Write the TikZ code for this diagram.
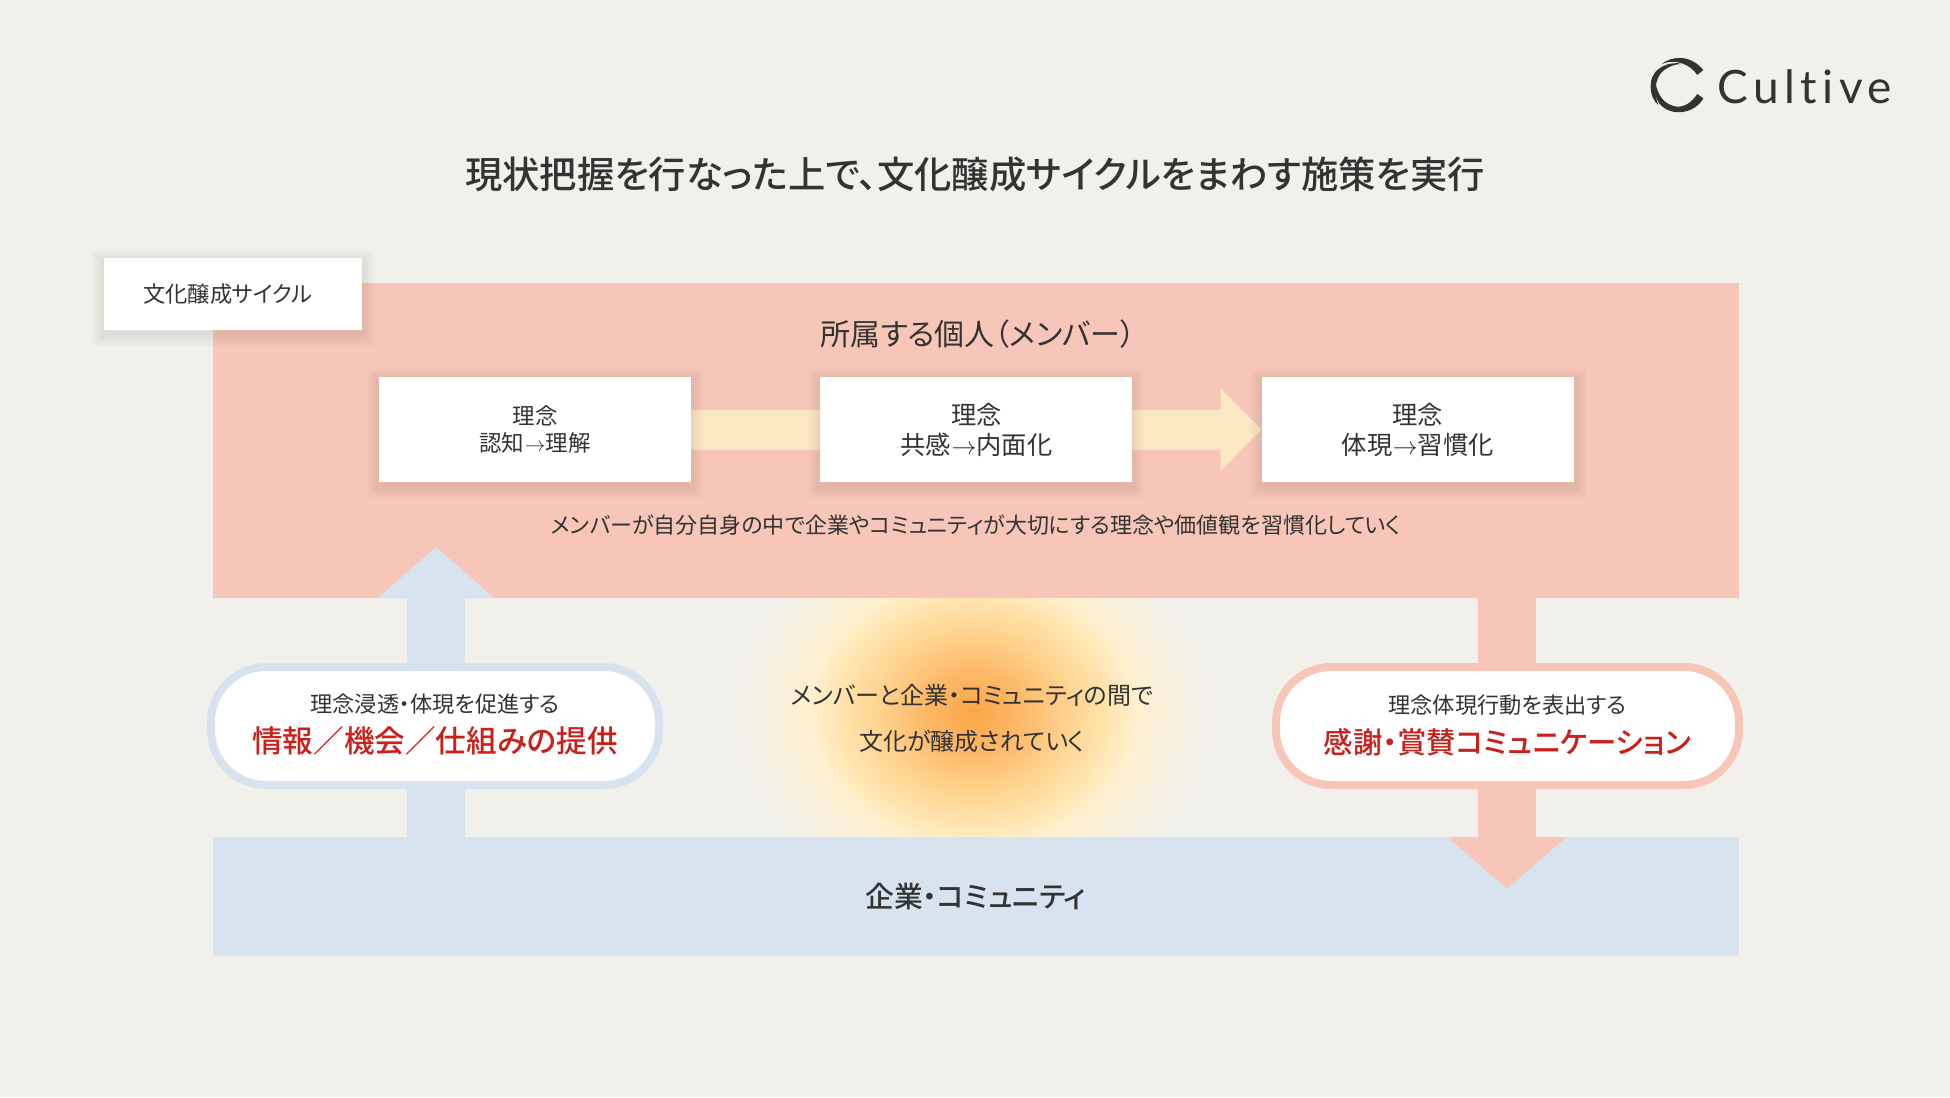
\documentclass[tikz,border=0pt]{standalone}
\usepackage{fontspec}
\setmainfont{Noto Sans CJK JP}[RawFeature=+palt]
\newfontfamily\midfont{Noto Sans CJK JP Medium}[RawFeature=+palt]
\newfontfamily\logofont{Lato}[LetterSpace=12,Ligatures=NoCommon]
\usetikzlibrary{arrows.meta}
\pgfdeclarelayer{bands}
\pgfdeclarelayer{flows}
\pgfsetlayers{bands,flows,main}
\definecolor{paper}{HTML}{F1F0EB}
\definecolor{ink}{HTML}{333333}
\definecolor{pinkband}{HTML}{F7C6B8}
\definecolor{blueband}{HTML}{D7E3EF}
\definecolor{creamflow}{HTML}{FDE8C4}
\definecolor{redtext}{HTML}{C9201A}
\definecolor{glowa}{HTML}{FBA646}
\definecolor{glowb}{HTML}{FCB868}
\definecolor{glowc}{HTML}{FFD38F}
\definecolor{glowd}{HTML}{FFE4AF}
\definecolor{glowe}{HTML}{FFF0CE}
\definecolor{glowf}{HTML}{F8F0DA}
\definecolor{glowg}{HTML}{F3F0E6}
\pgfdeclareradialshading{glow}{\pgfpoint{0bp}{0bp}}{%
  color(0bp)=(glowa);
  color(5bp)=(glowb);
  color(10bp)=(glowc);
  color(14bp)=(glowd);
  color(17bp)=(glowe);
  color(20bp)=(glowf);
  color(23bp)=(glowg);
  color(25bp)=(paper);
  color(50bp)=(paper)}
\tikzset{
  every node/.style={text=ink, inner sep=0pt},
  band/.style={rectangle, minimum width=1526pt},
  softlayer/.style={preaction={draw=black, draw opacity=.018, line width=#1, transform canvas={yshift=-4pt}}},
  card/.style={rectangle, fill=white, minimum width=312pt, minimum height=105pt, align=center,
    softlayer=24pt, softlayer=18pt, softlayer=12pt, softlayer=6pt},
  pill/.style={rectangle, rounded corners=55pt, fill=white, line width=8pt, minimum height=118pt},
  flow/.style={line width=#1}
}
\newcommand{\fs}[1]{\fontsize{#1pt}{#1pt}\selectfont}
\newcommand{\thinarrow}{\hspace{.5pt}$\rightarrow$}
\begin{document}
\begin{tikzpicture}[x=1pt,y=-1pt]
  \useasboundingbox (0,0) rectangle (1950,1097);
  % bands
  \begin{pgfonlayer}{bands}
    \fill[paper] (0,0) rectangle (1950,1097);
    \node[band,fill=pinkband,minimum height=315pt] (member) at (975.6,440.5) {};
    \begin{scope}
      \clip (700,598) rectangle (1250,837);
      \shade[shading=glow] (973,712) ellipse (240 and 200);
    \end{scope}
    \node[band,fill=blueband,minimum height=119pt] (company) at (975.6,896.5) {\midfont\fs{28.8}企業・コミュニティ};
  \end{pgfonlayer}
  % cards
  \node[card,minimum width=258pt,minimum height=72pt] (tag) at (233,294) {\fs{22.3}文化醸成サイクル\hspace{10pt}};
  \node[card] (notice) at (535,429.5) {\fs{22.5}理念\\[6pt]\fs{22.5}認知\thinarrow 理解};
  \node[card] (empathy) at (976.4,429.5) {\fs{25.3}理念\\[6pt]\fs{25.3}共感\thinarrow 内面化};
  \node[card] (embody) at (1417.8,429.5) {\fs{25.3}理念\\[6pt]\fs{25.3}体現\thinarrow 習慣化};
  \node[font=\fs{30}] (memberlabel) at (978,334) {所属する個人（メンバー）};
  \node[font=\fs{22}] (membertext) at (976,525) {メンバーが自分自身の中で企業やコミュニティが大切にする理念や価値観を習慣化していく};
  \node[font=\fs{24},align=center] (middle) at (972,718) {メンバーと企業・コミュニティの間で\\[22pt]文化が醸成されていく};
  % pills
  \node[pill,draw=blueband,minimum width=448pt] (provide) at (435,726) {};
  \node[pill,draw=pinkband,minimum width=463pt] (thanks) at (1507.5,726) {};
  \node[align=center] (providetext) at (435,724.5) {\fs{22.2}理念浸透・体現を促進する\\[12pt]{\midfont\color{redtext}\fs{30.6}情報／機会／仕組みの提供}};
  \node[align=center] (thankstext) at (1507.5,725) {\fs{22.2}理念体現行動を表出する\\[12pt]{\midfont\color{redtext}\fs{29.4}感謝・賞賛コミュニケーション}};
  % arrows
  \coordinate (bluetip) at (436,547);
  \coordinate (pinktip) at (1507,889);
  \begin{pgfonlayer}{flows}
    \draw[flow=58pt,blueband,-{Triangle[length=51pt,width=114pt]}] (company.north -| bluetip) -- (bluetip);
    \draw[flow=58pt,pinkband,-{Triangle[length=52pt,width=116pt]}] (member.south -| pinktip) -- (pinktip);
    \draw[flow=40pt,creamflow,-{Triangle[length=41pt,width=80pt]}] (notice.east) -- (embody.west);
  \end{pgfonlayer}
  % title and logo
  \node[font=\midfont\fs{37.3}] (title) at (975,174) {現状把握を行なった上で、文化醸成サイクルをまわす施策を実行};
  \begin{scope}[shift={(1640,50)},x=.3333pt,y=-.3333pt]
    \fill[ink] (65,42) .. controls (95,18) and (150,12) .. (190,60) -- (172,75)
      .. controls (150,42) and (105,25) .. (65,42) -- cycle;
    \fill[ink] (125,42) .. controls (95,32) and (30,50) .. (32,110)
      .. controls (32,135) and (42,155) .. (55,165)
      .. controls (42,135) and (42,85) .. (70,62)
      .. controls (85,50) and (105,42) .. (125,42) -- cycle;
    \fill[ink] (190,145) .. controls (165,190) and (100,200) .. (65,168)
      .. controls (45,150) and (42,120) .. (47,100)
      .. controls (52,130) and (70,168) .. (115,170)
      .. controls (140,170) and (160,150) .. (172,132) -- cycle;
  \end{scope}
  \node[font=\logofont\fs{46},anchor=west] (logoname) at (1717,87) {Cultive};
\end{tikzpicture}
\end{document}
